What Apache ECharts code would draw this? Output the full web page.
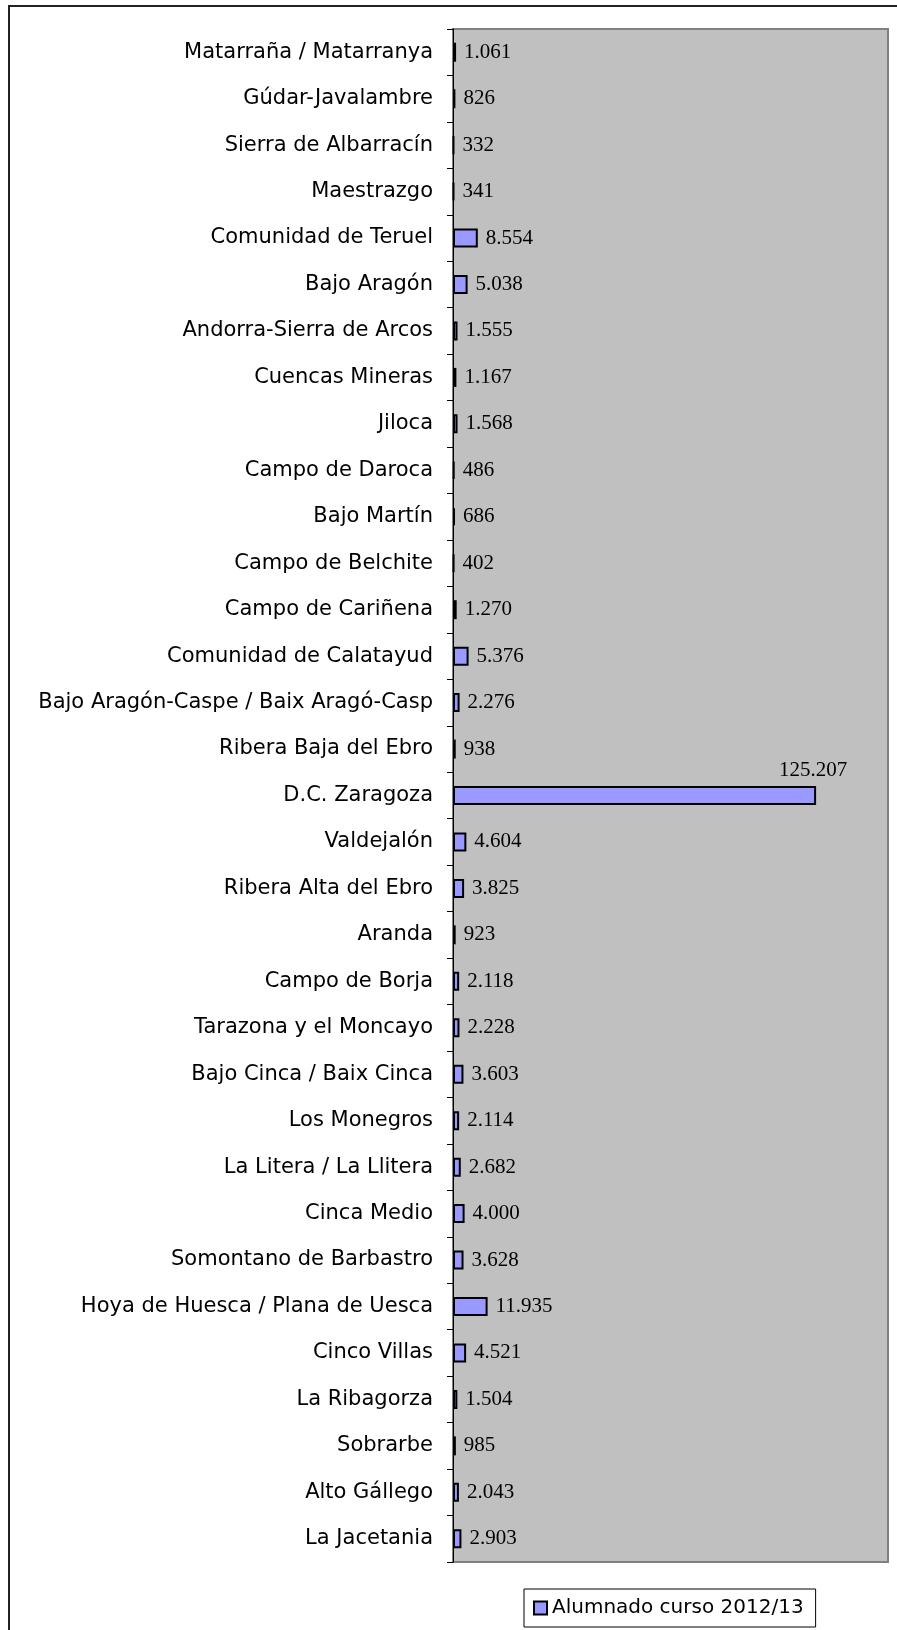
<!DOCTYPE html>
<html>
<head>
<meta charset="utf-8">
<script src="https://cdn.jsdelivr.net/npm/echarts@6/dist/echarts.min.js"></script>
<style>
  html, body { margin: 0; padding: 0; background: #fff; }
  #main { width: 897px; height: 1630px; }
</style>
</head>
<body>
<div id="main"></div>
<script>
// comarcas, de arriba a abajo
const comarcas = [
  'Matarraña / Matarranya', 'Gúdar-Javalambre', 'Sierra de Albarracín', 'Maestrazgo',
  'Comunidad de Teruel', 'Bajo Aragón', 'Andorra-Sierra de Arcos', 'Cuencas Mineras',
  'Jiloca', 'Campo de Daroca', 'Bajo Martín', 'Campo de Belchite', 'Campo de Cariñena',
  'Comunidad de Calatayud', 'Bajo Aragón-Caspe / Baix Aragó-Casp', 'Ribera Baja del Ebro',
  'D.C. Zaragoza', 'Valdejalón', 'Ribera Alta del Ebro', 'Aranda', 'Campo de Borja',
  'Tarazona y el Moncayo', 'Bajo Cinca / Baix Cinca', 'Los Monegros', 'La Litera / La Llitera',
  'Cinca Medio', 'Somontano de Barbastro', 'Hoya de Huesca / Plana de Uesca', 'Cinco Villas',
  'La Ribagorza', 'Sobrarbe', 'Alto Gállego', 'La Jacetania'
];
// alumnado curso 2012/13
const alumnado = [
  1061, 826, 332, 341, 8554, 5038, 1555, 1167, 1568, 486, 686, 402, 1270,
  5376, 2276, 938, 125207, 4604, 3825, 923, 2118, 2228, 3603, 2114, 2682,
  4000, 3628, 11935, 4521, 1504, 985, 2043, 2903
];
const serieNombre = 'Alumnado curso 2012/13';

// 1061 -> "1.061"
function miles(v) {
  return String(v).replace(/\B(?=(\d{3})+(?!\d))/g, '.');
}

const maxVal = Math.max(...alumnado);
const datos = alumnado.map(v => {
  if (v === maxVal) {
    // la etiqueta del valor mayor va encima de la barra
    return {
      value: v,
      label: { position: ['100%', 0], align: 'center', verticalAlign: 'bottom', offset: [-3, -5] }
    };
  }
  return v;
});

const chart = echarts.init(document.getElementById('main'));
chart.setOption({
  backgroundColor: '#fff',
  animation: false,
  graphic: [{
    type: 'rect',
    shape: { x: 9, y: 6, width: 900, height: 1640 },
    style: { fill: 'none', stroke: '#222', lineWidth: 2 },
    silent: true
  }],
  grid: {
    left: 453, right: 9, top: 29, bottom: 68,
    show: true,
    backgroundColor: '#c0c0c0',
    borderColor: '#808080',
    borderWidth: 2
  },
  legend: {
    left: 524, top: 1589,
    padding: [9, 12, 9, 9],
    borderColor: '#000',
    borderWidth: 1,
    backgroundColor: '#fff',
    itemWidth: 13, itemHeight: 13,
    icon: 'rect',
    textStyle: { fontFamily: 'DejaVu Sans', fontSize: 20, color: '#000' },
    data: [serieNombre]
  },
  xAxis: {
    type: 'value',
    min: 0,
    max: 150000,
    show: false,
    splitLine: { show: false }
  },
  yAxis: {
    type: 'category',
    inverse: true,
    data: comarcas,
    axisLine: { lineStyle: { color: '#000', width: 1 } },
    axisTick: { show: true, length: 6, lineStyle: { color: '#000' } },
    axisLabel: {
      margin: 20,
      fontFamily: 'DejaVu Sans',
      fontSize: 21,
      color: '#000'
    }
  },
  series: [{
    name: serieNombre,
    type: 'bar',
    data: datos,
    barWidth: 19,
    itemStyle: { color: '#9999ff', borderColor: '#000', borderWidth: 2 },
    label: {
      show: true,
      position: 'right',
      distance: 8,
      fontFamily: 'Liberation Serif',
      fontSize: 21,
      color: '#000',
      formatter: p => miles(p.value)
    }
  }]
});
</script>
</body>
</html>
